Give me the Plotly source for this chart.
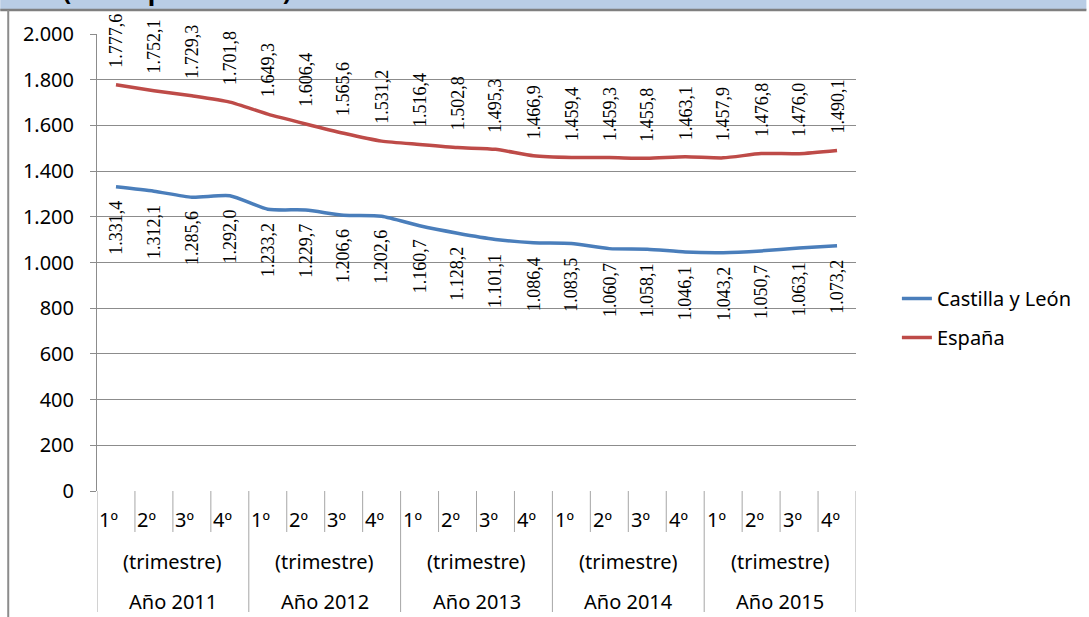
import plotly.graph_objects as go

quarters = ["1º", "2º", "3º", "4º"]
years = ["Año 2011", "Año 2012", "Año 2013", "Año 2014", "Año 2015"]
sub_label = "(trimestre)"
castilla = [1331.4, 1312.1, 1285.6, 1292.0, 1233.2, 1229.7, 1206.6, 1202.6, 1160.7, 1128.2,
            1101.1, 1086.4, 1083.5, 1060.7, 1058.1, 1046.1, 1043.2, 1050.7, 1063.1, 1073.2]
espana = [1777.6, 1752.1, 1729.3, 1701.8, 1649.3, 1606.4, 1565.6, 1531.2, 1516.4, 1502.8,
          1495.3, 1466.9, 1459.4, 1459.3, 1455.8, 1463.1, 1457.9, 1476.8, 1476.0, 1490.1]
ytick_vals = [0, 200, 400, 600, 800, 1000, 1200, 1400, 1600, 1800, 2000]
ytick_text = ["0", "200", "400", "600", "800", "1.000", "1.200", "1.400", "1.600", "1.800", "2.000"]
series_names = ["Castilla y León", "España"]
title_text = "2015 (euros por metro²)"

W, H = 1089, 617
L, R, T, B = 97, 858, 34, 491


def xp(px):
    return (px - L) / (R - L)


def yp(py):
    return (B - py) / (B - T)


def fmt(v):
    s = f"{v:,.1f}"
    return s.replace(",", "X").replace(".", ",").replace("X", ".")


n = len(years) * len(quarters)
xs = list(range(n))

fig = go.Figure()
fig.add_trace(go.Scatter(x=xs, y=castilla, mode="lines", name=series_names[0],
                         line=dict(color="#4a7ebb", width=3.5, shape="spline", smoothing=0.6),
                         legendgroup="a"))
fig.add_trace(go.Scatter(x=xs, y=espana, mode="lines", name=series_names[1],
                         line=dict(color="#be4b48", width=3.5, shape="spline", smoothing=0.6),
                         legendgroup="b"))

ann = []
lab_font = dict(family="Liberation Serif", size=18, color="#000000")
for i in xs:
    ann.append(dict(x=i, y=espana[i], xref="x", yref="y", text=fmt(espana[i]), textangle=-90,
                    showarrow=False, yanchor="bottom", xanchor="center", yshift=15, font=lab_font))
    ann.append(dict(x=i, y=castilla[i], xref="x", yref="y", text=fmt(castilla[i]), textangle=-90,
                    showarrow=False, yanchor="top", xanchor="center", yshift=-12, font=lab_font))

ax_font = dict(family="Noto Sans", size=20, color="#000000")
for k, yr in enumerate(years):
    for q, ql in enumerate(quarters):
        ann.append(dict(x=4 * k + q, y=yp(519), xref="x", yref="paper", text=ql, showarrow=False,
                        xanchor="center", yanchor="middle", xshift=-7, font=ax_font))
    ann.append(dict(x=4 * k + 1.5, y=yp(561), xref="x", yref="paper", text=sub_label,
                    showarrow=False, xanchor="center", yanchor="middle", font=ax_font))
    ann.append(dict(x=4 * k + 1.5, y=yp(601), xref="x", yref="paper", text=yr,
                    showarrow=False, xanchor="center", yanchor="middle", font=ax_font))

ann.append(dict(x=xp(-3), y=yp(-10), xref="paper", yref="paper", text="<b>" + title_text + "</b>",
                showarrow=False, xanchor="left", yanchor="middle",
                font=dict(family="Noto Sans", size=25, color="#000000")))

shapes = []
# header band
shapes.append(dict(type="rect", xref="paper", yref="paper", x0=xp(0), x1=xp(W), y0=yp(0), y1=yp(10),
                   fillcolor="#b9cde5", line=dict(width=0), layer="below"))
shapes.append(dict(type="line", xref="paper", yref="paper", x0=xp(0), x1=xp(W), y0=yp(10), y1=yp(10),
                   line=dict(color="#7f7f7f", width=2.5)))
shapes.append(dict(type="line", xref="paper", yref="paper", x0=xp(8), x1=xp(8), y0=yp(10), y1=yp(H),
                   line=dict(color="#8c8c8c", width=2)))
# category dividers
for i in range(n + 1):
    b = i - 0.5
    bottom = 612 if i % 4 == 0 else 532
    shapes.append(dict(type="line", xref="x", yref="paper", x0=b, x1=b, y0=0, y1=yp(bottom),
                       line=dict(color="#a6a6a6", width=1)))

fig.update_layout(
    width=W, height=H,
    margin=dict(l=L, r=W - R, t=T, b=H - B, pad=0),
    paper_bgcolor="white", plot_bgcolor="white",
    showlegend=True,
    legend=dict(x=xp(899), y=yp(318), xanchor="left", yanchor="middle",
                font=dict(family="Noto Sans", size=20, color="#000000"),
                tracegroupgap=10, bgcolor="rgba(0,0,0,0)"),
    annotations=ann, shapes=shapes,
    xaxis=dict(range=[-0.5, n - 0.5], showticklabels=False, showgrid=False, zeroline=False,
               showline=False, ticks=""),
    yaxis=dict(range=[0, 2000], tickvals=ytick_vals, ticktext=ytick_text, showgrid=True,
               gridcolor="#8c8c8c", gridwidth=1, zeroline=False, showline=True,
               linecolor="#8c8c8c", linewidth=1, ticks="outside", ticklen=6,
               tickcolor="#8c8c8c", ticklabelstandoff=12,
               tickfont=dict(family="Noto Sans", size=20, color="#000000")),
)
fig.write_html("out.html", config={"displayModeBar": False},
               post_script="document.body.style.margin='0';document.body.style.overflow='hidden';")
